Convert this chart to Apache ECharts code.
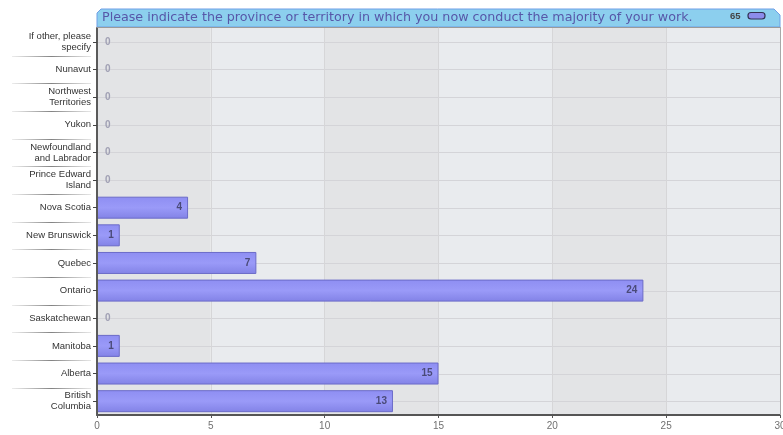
<!DOCTYPE html>
<html>
<head>
<meta charset="utf-8">
<script src="https://cdn.jsdelivr.net/npm/echarts@6/dist/echarts.min.js"></script>
<style>
  html, body { margin: 0; padding: 0; background: #ffffff; }
  #chart { width: 783px; height: 435px; }
</style>
</head>
<body>
<div id="chart"></div>
<script>
// Survey question and response count
const titleText = 'Please indicate the province or territory in which you now conduct the majority of your work.';
const responseCount = '65';

// Categories listed top to bottom
const provinces = [
  'If other, please\nspecify',
  'Nunavut',
  'Northwest\nTerritories',
  'Yukon',
  'Newfoundland\nand Labrador',
  'Prince Edward\nIsland',
  'Nova Scotia',
  'New Brunswick',
  'Quebec',
  'Ontario',
  'Saskatchewan',
  'Manitoba',
  'Alberta',
  'British\nColumbia'
];
const responses = [0, 0, 0, 0, 0, 0, 4, 1, 7, 24, 0, 1, 15, 13];

// Value axis ticks
const xTicks = [0, 5, 10, 15, 20, 25, 30];

const chart = echarts.init(document.getElementById('chart'));

const barData = responses.map(function (v) {
  return v > 0
    ? { value: v, label: { position: 'insideRight', color: '#4a4a78', distance: 6 } }
    : {
        value: v,
        itemStyle: { borderWidth: 0 },
        label: { position: 'right', color: '#a0a0b4', distance: 8 }
      };
});

const option = {
  animation: false,
  grid: {
    left: 97, right: 3, top: 28, bottom: 20,
    containLabel: false,
    outerBoundsMode: 'none'
  },
  xAxis: [
    {
      // background bands only, drawn underneath everything
      type: 'value',
      z: 0,
      min: xTicks[0],
      max: xTicks[xTicks.length - 1],
      interval: 5,
      show: true,
      axisLine: { show: false },
      axisTick: { show: false },
      axisLabel: { show: false },
      splitLine: { show: false },
      splitArea: { show: true, areaStyle: { color: ['#e3e4e6', '#e9ebee'] } }
    },
    {
      type: 'value',
      z: 2,
      position: 'bottom',
      min: xTicks[0],
      max: xTicks[xTicks.length - 1],
      interval: 5,
      axisLine: { show: true, onZero: false, lineStyle: { color: '#555', width: 2 } },
      axisTick: { show: true, length: 3, lineStyle: { color: '#555' } },
      axisLabel: { color: '#707070', fontSize: 10, fontFamily: 'Liberation Sans, Arial', margin: 6 },
      splitLine: { show: true, lineStyle: { color: '#d6d6d8', width: 1 } },
      splitArea: { show: false }
    }
  ],
  yAxis: {
    type: 'category',
    z: 4,
    inverse: true,
    data: provinces,
    axisLine: { show: true, lineStyle: { color: '#5a5a5a', width: 2 } },
    axisTick: { show: true, alignWithLabel: true, length: 4, lineStyle: { color: '#444' } },
    axisLabel: {
      color: '#333',
      fontSize: 9.5,
      lineHeight: 11,
      fontFamily: 'Liberation Sans, Arial',
      margin: 6,
      align: 'right'
    },
    splitLine: { show: false }
  },
  series: [{
    type: 'bar',
    xAxisIndex: 1,
    z: 3,
    data: barData,
    barWidth: 22,
    itemStyle: {
      color: new echarts.graphic.LinearGradient(0, 0, 0, 1, [
        { offset: 0, color: '#8e8ef2' },
        { offset: 0.5, color: '#9a9af8' },
        { offset: 1, color: '#8282e6' }
      ]),
      borderColor: '#6b6bc8',
      borderWidth: 1
    },
    label: {
      show: true,
      fontSize: 10,
      fontFamily: 'Liberation Sans, Arial',
      fontWeight: 'bold'
    }
  }],
  graphic: []
};

chart.setOption(option);

// Decorations: title bar, right border, row lines and label separators
const gridLeft = 97, gridRight = 780, barTop = 9, barBottom = 27;
const graphics = [
  {
    type: 'polygon',
    z: 10,
    shape: {
      points: [
        [gridLeft, barBottom], [gridLeft, barTop + 4], [gridLeft + 4, barTop],
        [gridRight - 6, barTop], [gridRight, barTop + 6], [gridRight, barBottom]
      ]
    },
    style: { fill: '#8ccfee', stroke: '#6f9fe6', lineWidth: 1 }
  },
  {
    type: 'line', z: 11,
    shape: { x1: gridLeft, y1: barBottom + 0.5, x2: gridRight, y2: barBottom + 0.5 },
    style: { stroke: '#9a9a9a', lineWidth: 1 }
  },
  {
    type: 'text', z: 11,
    left: 102, top: 11,
    style: {
      text: titleText,
      fill: '#5757a8',
      font: '12.7px "DejaVu Sans", Verdana, sans-serif'
    }
  },
  {
    type: 'text', z: 11,
    left: 730, top: 11,
    style: { text: responseCount, fill: '#444', font: 'bold 9.5px "Liberation Sans", Arial' }
  },
  {
    type: 'rect', z: 11,
    shape: { x: 748, y: 12.5, width: 17, height: 6.5, r: 3 },
    style: { fill: '#8c8cec', stroke: '#333355', lineWidth: 1.2 }
  },
  {
    type: 'line', z: 5,
    shape: { x1: gridRight + 0.5, y1: barBottom, x2: gridRight + 0.5, y2: 415 },
    style: { stroke: '#a8a8a8', lineWidth: 1 }
  }
];

// Row lines through each category centre, and separators between labels
for (let i = 0; i < provinces.length; i++) {
  const c = Math.round(chart.convertToPixel({ yAxisIndex: 0 }, i)) + 0.5;
  graphics.push({
    type: 'line', z: 1,
    shape: { x1: 98, y1: c, x2: gridRight, y2: c },
    style: { stroke: '#d4d4d8', lineWidth: 1 }
  });
  if (i + 1 < provinces.length) {
    const next = chart.convertToPixel({ yAxisIndex: 0 }, i + 1);
    const y = Math.round((c + next) / 2) + 0.5;
    graphics.push({
      type: 'line', z: 5,
      shape: { x1: 12, y1: y, x2: 91, y2: y },
      style: {
        stroke: new echarts.graphic.LinearGradient(0, 0, 1, 0, [
          { offset: 0, color: 'rgba(120,120,120,0.1)' },
          { offset: 0.5, color: 'rgba(90,90,90,0.75)' },
          { offset: 1, color: 'rgba(120,120,120,0.15)' }
        ]),
        lineWidth: 1
      }
    });
  }
}

chart.setOption({ graphic: graphics });
</script>
</body>
</html>
